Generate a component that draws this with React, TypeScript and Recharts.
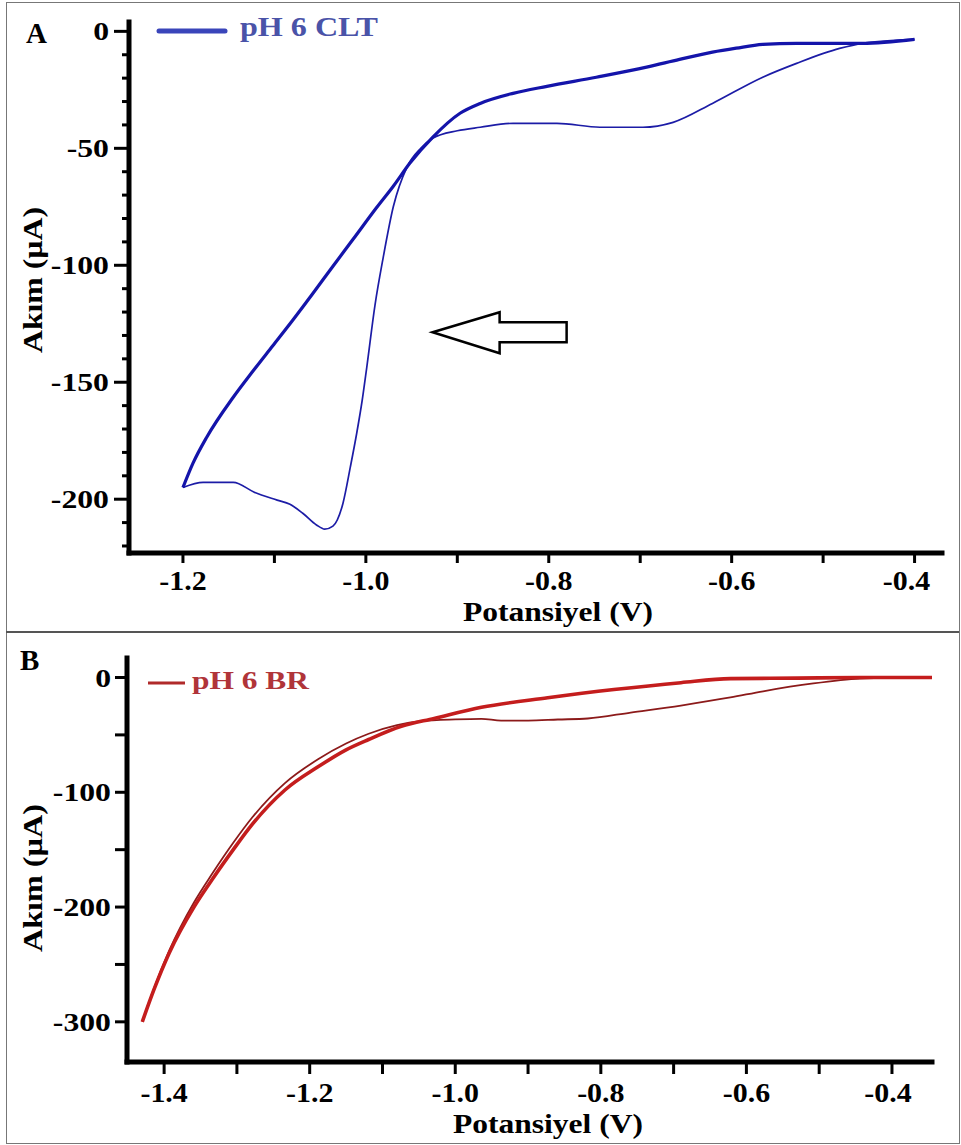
import { LineChart, Line, XAxis, YAxis, ReferenceDot, Label, Legend } from "recharts"

const FONT = "'Liberation Serif', 'Times New Roman', serif"

// Panel A - pH 6 CLT, [potential V, current uA]
const cltSweep: [number, number][] = [
  [-1.2, -195.0], [-1.189, -184.6], [-1.174, -173.5], [-1.145, -156.4], [-1.123, -145.0],
  [-1.102, -134.5], [-1.08, -123.5], [-1.059, -112.6], [-1.036, -100.4], [-1.014, -88.9],
  [-0.988, -75.2], [-0.97, -66.2], [-0.952, -56.4], [-0.927, -45.3], [-0.897, -35.0],
  [-0.875, -30.8], [-0.839, -26.5], [-0.802, -23.5], [-0.748, -19.6], [-0.693, -15.3],
  [-0.657, -12.0], [-0.621, -8.9], [-0.595, -7.2], [-0.566, -5.6], [-0.529, -5.1],
  [-0.457, -5.1], [-0.4, -3.4],
]
const cltReturn: [number, number][] = [
  [-1.2, -195.0], [-1.178, -192.8], [-1.145, -192.8], [-1.122, -197.0], [-1.097, -200.4],
  [-1.083, -202.2], [-1.069, -206.0], [-1.054, -211.0], [-1.045, -212.8], [-1.036, -211.5],
  [-1.025, -201.7], [-1.017, -186.3], [-1.01, -171.8], [-1.004, -157.7], [-0.999, -143.6],
  [-0.99, -117.0], [-0.981, -96.6], [-0.97, -75.0], [-0.955, -58.0], [-0.94, -50.0],
  [-0.927, -45.7], [-0.9, -42.5], [-0.875, -41.0], [-0.839, -39.3], [-0.791, -39.3],
  [-0.744, -41.0], [-0.697, -41.0], [-0.664, -38.9], [-0.621, -30.8], [-0.566, -19.6],
  [-0.529, -13.7], [-0.482, -7.3], [-0.457, -5.1], [-0.4, -3.4],
]

// Panel B - pH 6 BR
const brSweep: [number, number][] = [
  [-1.43, -300], [-1.414, -272], [-1.393, -240], [-1.359, -200], [-1.334, -176],
  [-1.305, -150], [-1.279, -128], [-1.234, -98], [-1.188, -77.6], [-1.15, -63.0],
  [-1.119, -54.0], [-1.074, -42.5], [-1.029, -35.7], [-0.964, -26.0], [-0.873, -17.7],
  [-0.782, -10.5], [-0.69, -4.5], [-0.622, -1.0], [-0.53, -0.5], [-0.444, 0], [-0.345, 0],
]
const brReturn: [number, number][] = [
  [-1.43, -300], [-1.414, -271], [-1.393, -238], [-1.359, -196], [-1.334, -171],
  [-1.305, -144], [-1.279, -122], [-1.234, -92], [-1.188, -71], [-1.15, -57.5],
  [-1.119, -49], [-1.08, -41.5], [-1.047, -38], [-1.0, -36.5], [-0.964, -36],
  [-0.937, -37.5], [-0.9, -37.5], [-0.859, -36.6], [-0.818, -35.7], [-0.759, -30.5],
  [-0.69, -24.4], [-0.622, -17.4], [-0.577, -12], [-0.508, -5.2], [-0.444, -1],
  [-0.385, 0], [-0.345, 0],
]

const cltXTicks = [-1.2, -1.1, -1.0, -0.9, -0.8, -0.7, -0.6, -0.5, -0.4]
const cltYTicks = [0, -10, -20, -30, -40, -50, -60, -70, -80, -90, -100, -110, -120, -130, -140, -150, -160, -170, -180, -190, -200, -210, -220]
const brXTicks = [-1.4, -1.3, -1.2, -1.1, -1.0, -0.9, -0.8, -0.7, -0.6, -0.5, -0.4]
const brYTicks = [0, -50, -100, -150, -200, -250, -300]

const arrowAt = { v: -0.927, i: -128.6 }

const toPoints = (rows: [number, number][]) => rows.map(([v, i]) => ({ v, i }))

const axisLine = { stroke: "#000", strokeWidth: 5, strokeLinecap: "square" as const }
const textStyle = { fontFamily: FONT, fontWeight: "bold" as const, fill: "#000" }

function makeYTick(labelStep: number, majorLen: number, minorLen: number, gap: number) {
  return function YTick(props: any) {
    const { x, y, payload } = props
    const val = payload.value
    const major = val % labelStep === 0
    const len = major ? majorLen : minorLen
    return (
      <g>
        <line x1={x - len} x2={x} y1={y} y2={y} stroke="#000" strokeWidth={3} />
        {major && (
          <text transform={`translate(${x - gap},${y + 9}) scale(1.22,1)`} textAnchor="end" fontSize={26} {...textStyle}>
            {val}
          </text>
        )}
      </g>
    )
  }
}

function makeXTick(len: number, baseline: number, lastShift: number) {
  return function XTick(props: any) {
    const { x, y, payload } = props
    const val = payload.value
    const major = Math.round(val * 10) % 2 === 0
    const shift = Math.round(val * 10) === -4 ? lastShift : 0
    return (
      <g>
        <line x1={x} x2={x} y1={y} y2={y + len} stroke="#000" strokeWidth={3} />
        {major && (
          <text transform={`translate(${x + shift},${y + baseline}) scale(1.07,1)`} textAnchor="middle" fontSize={28} {...textStyle}>
            {val.toFixed(1)}
          </text>
        )}
      </g>
    )
  }
}

const CltYTick = makeYTick(50, 15, 7, 20)
const CltXTick = makeXTick(10, 37, -8)
const BrYTick = makeYTick(100, 12, 12, 16)
const BrXTick = makeXTick(12, 40, -4)

// outlined left arrow, tip sits on the reference point
const ArrowShape = ({ cx, cy }: any) => (
  <polygon
    points={`${cx},${cy} ${cx + 67},${cy - 20} ${cx + 67},${cy - 10} ${cx + 134},${cy - 10} ${cx + 134},${cy + 10} ${cx + 67},${cy + 10} ${cx + 67},${cy + 21}`}
    fill="#fff" stroke="#000" strokeWidth={2.5} strokeLinejoin="miter"
  />
)

function CltPanel() {
  return (
    <LineChart width={961} height={632} margin={{ top: 22, right: 19, bottom: 9, left: 19 }}>
      <XAxis type="number" dataKey="v" domain={[-1.259, -0.37]} ticks={cltXTicks} interval={0} allowDataOverflow
        tickSize={0} tickMargin={0} tickLine={false} axisLine={axisLine} tick={CltXTick} height={70}>
        <Label content={() => (
          <text x={558} y={621} textAnchor="middle" fontSize={28} textLength={190} lengthAdjust="spacingAndGlyphs" {...textStyle}>Potansiyel (V)</text>
        )} />
      </XAxis>
      <YAxis type="number" dataKey="i" domain={[-223, 4]} ticks={cltYTicks} interval={0} allowDataOverflow
        tickSize={0} tickMargin={0} tickLine={false} axisLine={axisLine} tick={CltYTick} width={110}>
        <Label content={() => (
          <text transform="translate(42,280) rotate(-90)" textAnchor="middle" fontSize={28} textLength={146} lengthAdjust="spacingAndGlyphs" {...textStyle}>Akım (µA)</text>
        )} />
        <Label content={() => (
          <text x={26} y={43} fontSize={29} {...textStyle}>A</text>
        )} />
      </YAxis>
      <Legend layout="vertical" align="center" verticalAlign="middle"
        wrapperStyle={{ position: "absolute", left: 150, top: 4, width: 240, height: 44 }}
        content={() => (
          <svg width={240} height={44} style={{ display: "block" }}>
            <line x1={9} x2={75} y1={27} y2={27} stroke="#3a45ba" strokeWidth={5} strokeLinecap="round" />
            <text x={90} y={32} fontSize={27} fontFamily={FONT} fontWeight="bold" fill="#4a53a8" textLength={138} lengthAdjust="spacingAndGlyphs">pH 6 CLT</text>
          </svg>
        )} />
      <Line data={toPoints(cltReturn)} dataKey="i" type="monotone" stroke="#1c1ca6" strokeWidth={1.7} dot={false} isAnimationActive={false} legendType="none" />
      <Line data={toPoints(cltSweep)} dataKey="i" type="monotone" stroke="#1414aa" strokeWidth={3.2} dot={false} isAnimationActive={false} />
      <ReferenceDot x={arrowAt.v} y={arrowAt.i} r={0} shape={ArrowShape} />
    </LineChart>
  )
}

function BrPanel() {
  return (
    <LineChart width={961} height={513} margin={{ top: 26, right: 29, bottom: 13, left: 17 }}>
      <XAxis type="number" dataKey="v" domain={[-1.451, -0.345]} ticks={brXTicks} interval={0} allowDataOverflow
        tickSize={0} tickMargin={0} tickLine={false} axisLine={axisLine} tick={BrXTick} height={70}>
        <Label content={() => (
          <text x={548} y={501} textAnchor="middle" fontSize={28} textLength={190} lengthAdjust="spacingAndGlyphs" {...textStyle}>Potansiyel (V)</text>
        )} />
      </XAxis>
      <YAxis type="number" dataKey="i" domain={[-335, 17]} ticks={brYTicks} interval={0} allowDataOverflow
        tickSize={0} tickMargin={0} tickLine={false} axisLine={axisLine} tick={BrYTick} width={110}>
        <Label content={() => (
          <text transform="translate(42,246) rotate(-90)" textAnchor="middle" fontSize={28} textLength={148} lengthAdjust="spacingAndGlyphs" {...textStyle}>Akım (µA)</text>
        )} />
        <Label content={() => (
          <text x={20} y={38} fontSize={29} {...textStyle}>B</text>
        )} />
      </YAxis>
      <Legend layout="vertical" align="center" verticalAlign="middle"
        wrapperStyle={{ position: "absolute", left: 140, top: 26, width: 200, height: 44 }}
        content={() => (
          <svg width={200} height={44} style={{ display: "block" }}>
            <line x1={8} x2={45} y1={25} y2={25} stroke="#b02a2a" strokeWidth={3} />
            <text x={52} y={31} fontSize={26} fontFamily={FONT} fontWeight="bold" fill="#b03439" textLength={117} lengthAdjust="spacingAndGlyphs">pH 6 BR</text>
          </svg>
        )} />
      <Line data={toPoints(brReturn)} dataKey="i" type="monotone" stroke="#8c1a1a" strokeWidth={1.8} dot={false} isAnimationActive={false} legendType="none" />
      <Line data={toPoints(brSweep)} dataKey="i" type="monotone" stroke="#c41d1d" strokeWidth={3.6} dot={false} isAnimationActive={false} />
    </LineChart>
  )
}

export default function App() {
  return (
    <div style={{ position: "absolute", left: 0, top: 0, width: 961, height: 1145, background: "#fff" }}>
      <div style={{ position: "absolute", left: 6, top: 2, width: 952, height: 1140, border: "1px solid #777" }} />
      <div style={{ position: "absolute", left: 6, top: 631, width: 953, borderTop: "2px solid #555" }} />
      <div style={{ position: "absolute", left: 0, top: 0 }}>
        <CltPanel />
      </div>
      <div style={{ position: "absolute", left: 0, top: 632 }}>
        <BrPanel />
      </div>
    </div>
  )
}
